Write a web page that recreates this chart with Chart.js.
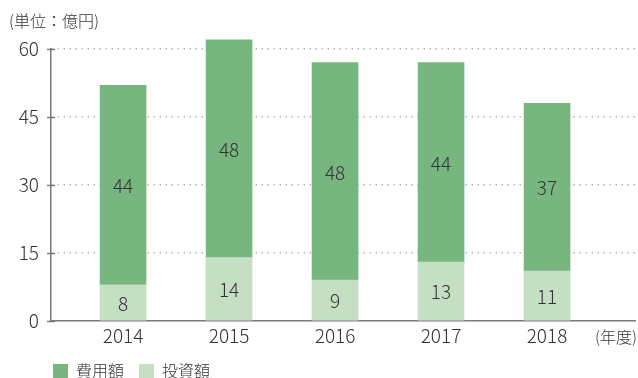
<!DOCTYPE html>
<html lang="ja">
<head>
<meta charset="utf-8">
<script src="https://cdn.jsdelivr.net/npm/chart.js@4.4.1/dist/chart.umd.min.js"></script>
<style>
  html, body { margin: 0; padding: 0; background: #fff; }
  #wrap { position: relative; width: 638px; height: 378px; }
</style>
</head>
<body>
<div id="wrap"><canvas id="grafico"></canvas></div>
<script>
const anni = [2014, 2015, 2016, 2017, 2018];
const investimento = [8, 14, 9, 13, 11];   // 投資額
const costi = [44, 48, 48, 44, 37];         // 費用額
const yTicks = [0, 15, 30, 45, 60];

const FONT = "'Noto Sans CJK JP', 'Noto Sans', sans-serif";
const TXT = '#333333';
const AXIS = '#7a7a7a';

// etichette dei valori al centro di ogni segmento
const etichette = {
    id: 'etichette',
    afterDatasetsDraw(chart) {
        const ctx = chart.ctx;
        ctx.save();
        ctx.font = '300 19px ' + FONT;
        ctx.fillStyle = TXT;
        ctx.textAlign = 'center';
        ctx.textBaseline = 'middle';
        chart.data.datasets.forEach((ds, i) => {
            chart.getDatasetMeta(i).data.forEach((bar, j) => {
                const yc = (bar.y + bar.base) / 2;
                ctx.fillText(String(ds.data[j].y), bar.x, yc + 1);
            });
        });
        ctx.restore();
    }
};

// tacche dell'asse y, testi extra e legenda
const extra = {
    id: 'extra',
    afterDraw(chart) {
        const ctx = chart.ctx;
        const area = chart.chartArea;
        const sy = chart.scales.y;
        ctx.save();
        ctx.strokeStyle = AXIS;
        ctx.lineWidth = 1.5;
        yTicks.forEach(v => {
            const py = Math.round(sy.getPixelForValue(v)) + 0.5;
            ctx.beginPath();
            ctx.moveTo(area.left - 4, py);
            ctx.lineTo(area.left + 4, py);
            ctx.stroke();
        });

        ctx.fillStyle = TXT;
        ctx.font = '300 16px ' + FONT;
        ctx.textBaseline = 'middle';
        ctx.textAlign = 'left';
        ctx.fillText('(単位：億円)', 9, 21);
        ctx.textAlign = 'right';
        ctx.fillText('(年度)', 637, 337);

        // legenda
        ctx.textAlign = 'left';
        let x = 53;
        const ordine = [1, 0];
        ordine.forEach(i => {
            const ds = chart.data.datasets[i];
            ctx.fillStyle = ds.backgroundColor;
            ctx.fillRect(x, 364, 15, 14);
            ctx.fillStyle = TXT;
            ctx.fillText(ds.label, x + 23, 371);
            x += 23 + ctx.measureText(ds.label).width + 15;
        });
        ctx.restore();
    }
};

const ctx = document.getElementById('grafico').getContext('2d');
new Chart(ctx, {
    type: 'bar',
    data: {
        datasets: [
            {
                label: '投資額',
                data: anni.map((a, i) => ({ x: a, y: investimento[i] })),
                backgroundColor: '#c5dfc3',
                barThickness: 46,
                clip: false
            },
            {
                label: '費用額',
                data: anni.map((a, i) => ({ x: a, y: costi[i] })),
                backgroundColor: '#77b77f',
                barThickness: 46,
                clip: false
            }
        ]
    },
    options: {
        responsive: true,
        maintainAspectRatio: false,
        animation: false,
        layout: { padding: { top: 49, left: 0, right: 3, bottom: 27 } },
        plugins: {
            legend: { display: false },
            tooltip: { enabled: false }
        },
        scales: {
            x: {
                type: 'linear',
                stacked: true,
                offset: false,
                min: 2013.32,
                max: 2018.83,
                afterBuildTicks: s => { s.ticks = anni.map(v => ({ value: v })); },
                afterFit: s => { s.height = 30; },
                grid: { display: false, drawTicks: false, offset: false },
                border: { display: true, color: AXIS, width: 1.5 },
                ticks: {
                    padding: 3,
                    color: TXT,
                    font: { family: FONT, size: 19, weight: 300 },
                    callback: v => String(v)
                }
            },
            y: {
                stacked: true,
                min: 0,
                max: 60,
                afterBuildTicks: s => { s.ticks = yTicks.map(v => ({ value: v })); },
                afterFit: s => { s.width = 51; },
                grid: {
                    color: c => c.tick && c.tick.value === 0 ? 'rgba(0,0,0,0)' : '#b3b3b3',
                    lineWidth: 1.5,
                    drawTicks: false
                },
                border: { display: true, color: AXIS, width: 1.5, dash: [1.5, 4.5] },
                ticks: {
                    padding: 12,
                    color: TXT,
                    font: { family: FONT, size: 19, weight: 300 }
                }
            }
        }
    },
    plugins: [etichette, extra]
});
</script>
</body>
</html>
